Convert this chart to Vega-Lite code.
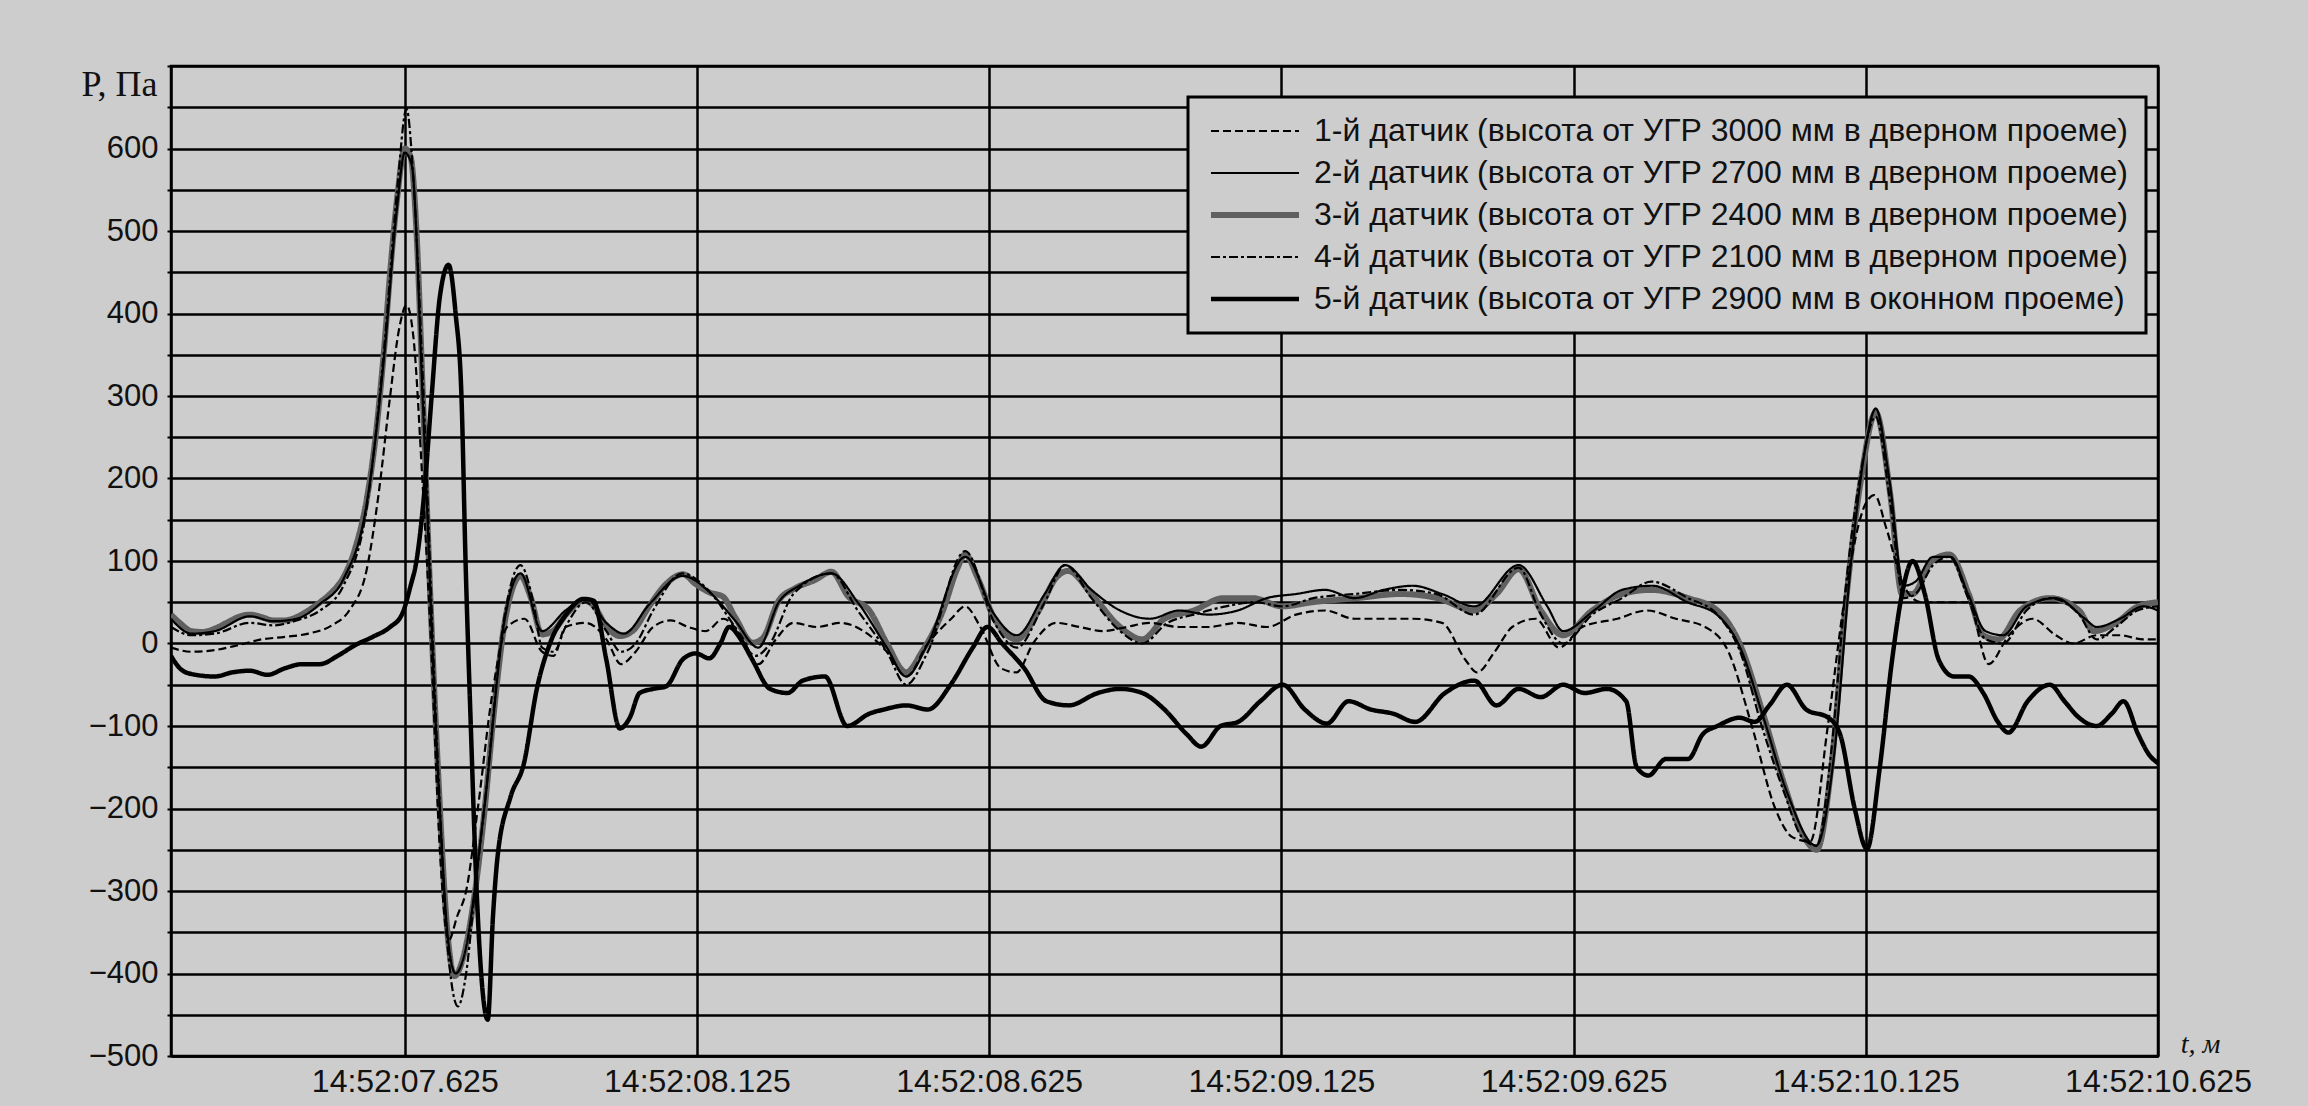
{
"$schema":"https://vega.github.io/schema/vega-lite/v6.json",
"width":1987,"height":990,
"autosize":{"type":"none"},
"padding":{"left":171,"top":66,"right":150,"bottom":50},
"background":"#cdcdcd",
"datasets":{"names":[
{"k":1,"name":"1-й датчик (высота от УГР 3000 мм в дверном проеме)"},
{"k":2,"name":"2-й датчик (высота от УГР 2700 мм в дверном проеме)"},
{"k":3,"name":"3-й датчик (высота от УГР 2400 мм в дверном проеме)"},
{"k":4,"name":"4-й датчик (высота от УГР 2100 мм в дверном проеме)"},
{"k":5,"name":"5-й датчик (высота от УГР 2900 мм в оконном проеме)"}]},
"data":{"values":[
{"k":3,"t":7.225,"p":35},{"k":3,"t":7.24,"p":25},{"k":3,"t":7.26,"p":15},{"k":3,"t":7.28,"p":14},{"k":3,"t":7.3,"p":18},{"k":3,"t":7.32,"p":25},{"k":3,"t":7.34,"p":32},{"k":3,"t":7.36,"p":35},{"k":3,"t":7.38,"p":32},{"k":3,"t":7.4,"p":28},{"k":3,"t":7.42,"p":28},{"k":3,"t":7.44,"p":32},{"k":3,"t":7.46,"p":40},{"k":3,"t":7.48,"p":50},{"k":3,"t":7.5,"p":62},{"k":3,"t":7.52,"p":80},{"k":3,"t":7.54,"p":115},{"k":3,"t":7.56,"p":175},{"k":3,"t":7.575,"p":250},{"k":3,"t":7.59,"p":360},{"k":3,"t":7.6,"p":450},{"k":3,"t":7.612,"p":540},{"k":3,"t":7.625,"p":600},{"k":3,"t":7.635,"p":590},{"k":3,"t":7.645,"p":500},{"k":3,"t":7.656,"p":300},{"k":3,"t":7.668,"p":70},{"k":3,"t":7.682,"p":-155},{"k":3,"t":7.699,"p":-358},{"k":3,"t":7.71,"p":-403},{"k":3,"t":7.724,"p":-383},{"k":3,"t":7.744,"p":-307},{"k":3,"t":7.761,"p":-206},{"k":3,"t":7.778,"p":-80},{"k":3,"t":7.795,"p":21},{"k":3,"t":7.812,"p":72},{"k":3,"t":7.823,"p":82},{"k":3,"t":7.84,"p":57},{"k":3,"t":7.86,"p":11},{"k":3,"t":7.88,"p":16},{"k":3,"t":7.902,"p":36},{"k":3,"t":7.931,"p":52},{"k":3,"t":7.948,"p":46},{"k":3,"t":7.97,"p":21},{"k":3,"t":7.993,"p":9},{"k":3,"t":8.016,"p":16},{"k":3,"t":8.044,"p":46},{"k":3,"t":8.072,"p":72},{"k":3,"t":8.101,"p":84},{"k":3,"t":8.123,"p":72},{"k":3,"t":8.146,"p":62},{"k":3,"t":8.169,"p":57},{"k":3,"t":8.191,"p":31},{"k":3,"t":8.22,"p":1},{"k":3,"t":8.237,"p":6},{"k":3,"t":8.265,"p":52},{"k":3,"t":8.293,"p":67},{"k":3,"t":8.327,"p":77},{"k":3,"t":8.355,"p":87},{"k":3,"t":8.384,"p":57},{"k":3,"t":8.42,"p":40},{"k":3,"t":8.45,"p":0},{"k":3,"t":8.483,"p":-35},{"k":3,"t":8.51,"p":-10},{"k":3,"t":8.546,"p":40},{"k":3,"t":8.57,"p":90},{"k":3,"t":8.584,"p":108},{"k":3,"t":8.605,"p":80},{"k":3,"t":8.634,"p":30},{"k":3,"t":8.672,"p":5},{"k":3,"t":8.71,"p":40},{"k":3,"t":8.74,"p":80},{"k":3,"t":8.76,"p":88},{"k":3,"t":8.8,"p":60},{"k":3,"t":8.849,"p":20},{"k":3,"t":8.887,"p":5},{"k":3,"t":8.925,"p":30},{"k":3,"t":8.975,"p":40},{"k":3,"t":9.026,"p":55},{"k":3,"t":9.076,"p":55},{"k":3,"t":9.127,"p":45},{"k":3,"t":9.177,"p":50},{"k":3,"t":9.253,"p":55},{"k":3,"t":9.329,"p":60},{"k":3,"t":9.392,"p":55},{"k":3,"t":9.455,"p":40},{"k":3,"t":9.493,"p":60},{"k":3,"t":9.531,"p":90},{"k":3,"t":9.569,"p":40},{"k":3,"t":9.607,"p":10},{"k":3,"t":9.657,"p":40},{"k":3,"t":9.708,"p":60},{"k":3,"t":9.758,"p":65},{"k":3,"t":9.821,"p":55},{"k":3,"t":9.871,"p":40},{"k":3,"t":9.909,"p":0},{"k":3,"t":9.947,"p":-80},{"k":3,"t":9.985,"p":-170},{"k":3,"t":10.016,"p":-230},{"k":3,"t":10.041,"p":-250},{"k":3,"t":10.066,"p":-150},{"k":3,"t":10.091,"p":50},{"k":3,"t":10.117,"p":200},{"k":3,"t":10.142,"p":280},{"k":3,"t":10.167,"p":180},{"k":3,"t":10.187,"p":60},{"k":3,"t":10.205,"p":60},{"k":3,"t":10.238,"p":100},{"k":3,"t":10.268,"p":108},{"k":3,"t":10.301,"p":60},{"k":3,"t":10.326,"p":10},{"k":3,"t":10.351,"p":5},{"k":3,"t":10.389,"p":40},{"k":3,"t":10.44,"p":55},{"k":3,"t":10.49,"p":40},{"k":3,"t":10.515,"p":15},{"k":3,"t":10.553,"p":25},{"k":3,"t":10.591,"p":45},{"k":3,"t":10.625,"p":50},
{"k":2,"t":7.225,"p":30},{"k":2,"t":7.26,"p":12},{"k":2,"t":7.3,"p":15},{"k":2,"t":7.36,"p":33},{"k":2,"t":7.4,"p":27},{"k":2,"t":7.44,"p":30},{"k":2,"t":7.48,"p":48},{"k":2,"t":7.52,"p":78},{"k":2,"t":7.56,"p":170},{"k":2,"t":7.59,"p":350},{"k":2,"t":7.612,"p":530},{"k":2,"t":7.625,"p":595},{"k":2,"t":7.637,"p":580},{"k":2,"t":7.656,"p":290},{"k":2,"t":7.682,"p":-160},{"k":2,"t":7.7,"p":-365},{"k":2,"t":7.712,"p":-400},{"k":2,"t":7.726,"p":-380},{"k":2,"t":7.761,"p":-200},{"k":2,"t":7.795,"p":25},{"k":2,"t":7.823,"p":85},{"k":2,"t":7.86,"p":15},{"k":2,"t":7.9,"p":40},{"k":2,"t":7.935,"p":55},{"k":2,"t":7.97,"p":25},{"k":2,"t":8.0,"p":12},{"k":2,"t":8.044,"p":48},{"k":2,"t":8.1,"p":82},{"k":2,"t":8.15,"p":60},{"k":2,"t":8.19,"p":28},{"k":2,"t":8.23,"p":-5},{"k":2,"t":8.265,"p":50},{"k":2,"t":8.3,"p":70},{"k":2,"t":8.355,"p":85},{"k":2,"t":8.4,"p":50},{"k":2,"t":8.45,"p":-5},{"k":2,"t":8.483,"p":-40},{"k":2,"t":8.52,"p":0},{"k":2,"t":8.584,"p":105},{"k":2,"t":8.634,"p":35},{"k":2,"t":8.672,"p":10},{"k":2,"t":8.72,"p":60},{"k":2,"t":8.755,"p":95},{"k":2,"t":8.8,"p":65},{"k":2,"t":8.849,"p":40},{"k":2,"t":8.9,"p":30},{"k":2,"t":8.95,"p":40},{"k":2,"t":9.0,"p":35},{"k":2,"t":9.05,"p":40},{"k":2,"t":9.1,"p":55},{"k":2,"t":9.15,"p":60},{"k":2,"t":9.2,"p":65},{"k":2,"t":9.25,"p":55},{"k":2,"t":9.3,"p":65},{"k":2,"t":9.35,"p":70},{"k":2,"t":9.4,"p":60},{"k":2,"t":9.455,"p":45},{"k":2,"t":9.531,"p":95},{"k":2,"t":9.58,"p":45},{"k":2,"t":9.607,"p":15},{"k":2,"t":9.66,"p":40},{"k":2,"t":9.708,"p":65},{"k":2,"t":9.76,"p":70},{"k":2,"t":9.82,"p":50},{"k":2,"t":9.87,"p":35},{"k":2,"t":9.91,"p":-5},{"k":2,"t":9.95,"p":-90},{"k":2,"t":9.99,"p":-180},{"k":2,"t":10.04,"p":-245},{"k":2,"t":10.07,"p":-140},{"k":2,"t":10.1,"p":100},{"k":2,"t":10.125,"p":240},{"k":2,"t":10.142,"p":285},{"k":2,"t":10.165,"p":200},{"k":2,"t":10.19,"p":70},{"k":2,"t":10.21,"p":75},{"k":2,"t":10.24,"p":105},{"k":2,"t":10.27,"p":105},{"k":2,"t":10.3,"p":60},{"k":2,"t":10.33,"p":15},{"k":2,"t":10.36,"p":10},{"k":2,"t":10.4,"p":45},{"k":2,"t":10.45,"p":55},{"k":2,"t":10.5,"p":30},{"k":2,"t":10.52,"p":20},{"k":2,"t":10.56,"p":30},{"k":2,"t":10.6,"p":45},{"k":2,"t":10.625,"p":40},
{"k":4,"t":7.225,"p":20},{"k":4,"t":7.26,"p":10},{"k":4,"t":7.3,"p":12},{"k":4,"t":7.36,"p":25},{"k":4,"t":7.4,"p":22},{"k":4,"t":7.44,"p":28},{"k":4,"t":7.48,"p":40},{"k":4,"t":7.52,"p":70},{"k":4,"t":7.56,"p":165},{"k":4,"t":7.59,"p":360},{"k":4,"t":7.612,"p":550},{"k":4,"t":7.628,"p":648},{"k":4,"t":7.64,"p":560},{"k":4,"t":7.656,"p":320},{"k":4,"t":7.682,"p":-150},{"k":4,"t":7.7,"p":-380},{"k":4,"t":7.716,"p":-440},{"k":4,"t":7.73,"p":-400},{"k":4,"t":7.745,"p":-300},{"k":4,"t":7.761,"p":-200},{"k":4,"t":7.795,"p":30},{"k":4,"t":7.823,"p":95},{"k":4,"t":7.845,"p":50},{"k":4,"t":7.86,"p":-5},{"k":4,"t":7.88,"p":-10},{"k":4,"t":7.9,"p":20},{"k":4,"t":7.935,"p":50},{"k":4,"t":7.97,"p":15},{"k":4,"t":7.995,"p":-10},{"k":4,"t":8.02,"p":0},{"k":4,"t":8.05,"p":40},{"k":4,"t":8.1,"p":85},{"k":4,"t":8.15,"p":60},{"k":4,"t":8.19,"p":20},{"k":4,"t":8.225,"p":-15},{"k":4,"t":8.25,"p":0},{"k":4,"t":8.29,"p":60},{"k":4,"t":8.355,"p":85},{"k":4,"t":8.4,"p":40},{"k":4,"t":8.45,"p":-10},{"k":4,"t":8.483,"p":-50},{"k":4,"t":8.52,"p":-10},{"k":4,"t":8.584,"p":112},{"k":4,"t":8.634,"p":25},{"k":4,"t":8.672,"p":-5},{"k":4,"t":8.72,"p":50},{"k":4,"t":8.755,"p":95},{"k":4,"t":8.8,"p":55},{"k":4,"t":8.849,"p":15},{"k":4,"t":8.887,"p":0},{"k":4,"t":8.93,"p":25},{"k":4,"t":8.975,"p":35},{"k":4,"t":9.03,"p":45},{"k":4,"t":9.08,"p":50},{"k":4,"t":9.127,"p":45},{"k":4,"t":9.18,"p":55},{"k":4,"t":9.25,"p":60},{"k":4,"t":9.33,"p":65},{"k":4,"t":9.39,"p":60},{"k":4,"t":9.455,"p":35},{"k":4,"t":9.531,"p":92},{"k":4,"t":9.569,"p":35},{"k":4,"t":9.607,"p":0},{"k":4,"t":9.657,"p":35},{"k":4,"t":9.708,"p":55},{"k":4,"t":9.758,"p":75},{"k":4,"t":9.821,"p":55},{"k":4,"t":9.871,"p":35},{"k":4,"t":9.91,"p":-10},{"k":4,"t":9.947,"p":-100},{"k":4,"t":9.985,"p":-180},{"k":4,"t":10.016,"p":-235},{"k":4,"t":10.041,"p":-245},{"k":4,"t":10.066,"p":-130},{"k":4,"t":10.091,"p":70},{"k":4,"t":10.117,"p":210},{"k":4,"t":10.142,"p":275},{"k":4,"t":10.167,"p":170},{"k":4,"t":10.19,"p":55},{"k":4,"t":10.21,"p":60},{"k":4,"t":10.24,"p":95},{"k":4,"t":10.268,"p":105},{"k":4,"t":10.3,"p":55},{"k":4,"t":10.33,"p":5},{"k":4,"t":10.36,"p":0},{"k":4,"t":10.4,"p":40},{"k":4,"t":10.44,"p":55},{"k":4,"t":10.49,"p":35},{"k":4,"t":10.52,"p":5},{"k":4,"t":10.553,"p":20},{"k":4,"t":10.59,"p":40},{"k":4,"t":10.625,"p":45},
{"k":1,"t":7.225,"p":-5},{"k":1,"t":7.26,"p":-10},{"k":1,"t":7.3,"p":-8},{"k":1,"t":7.34,"p":-2},{"k":1,"t":7.38,"p":5},{"k":1,"t":7.42,"p":8},{"k":1,"t":7.46,"p":12},{"k":1,"t":7.5,"p":22},{"k":1,"t":7.53,"p":40},{"k":1,"t":7.56,"p":90},{"k":1,"t":7.58,"p":180},{"k":1,"t":7.6,"p":300},{"k":1,"t":7.615,"p":380},{"k":1,"t":7.628,"p":410},{"k":1,"t":7.64,"p":370},{"k":1,"t":7.655,"p":200},{"k":1,"t":7.67,"p":0},{"k":1,"t":7.685,"p":-250},{"k":1,"t":7.7,"p":-360},{"k":1,"t":7.715,"p":-330},{"k":1,"t":7.73,"p":-300},{"k":1,"t":7.75,"p":-200},{"k":1,"t":7.775,"p":-60},{"k":1,"t":7.8,"p":20},{"k":1,"t":7.83,"p":30},{"k":1,"t":7.86,"p":-10},{"k":1,"t":7.88,"p":-15},{"k":1,"t":7.9,"p":20},{"k":1,"t":7.935,"p":25},{"k":1,"t":7.97,"p":5},{"k":1,"t":7.995,"p":-25},{"k":1,"t":8.02,"p":-10},{"k":1,"t":8.05,"p":20},{"k":1,"t":8.08,"p":28},{"k":1,"t":8.11,"p":20},{"k":1,"t":8.14,"p":15},{"k":1,"t":8.17,"p":30},{"k":1,"t":8.2,"p":10},{"k":1,"t":8.23,"p":-25},{"k":1,"t":8.26,"p":5},{"k":1,"t":8.29,"p":25},{"k":1,"t":8.33,"p":20},{"k":1,"t":8.37,"p":25},{"k":1,"t":8.41,"p":15},{"k":1,"t":8.45,"p":-10},{"k":1,"t":8.483,"p":-40},{"k":1,"t":8.52,"p":0},{"k":1,"t":8.56,"p":30},{"k":1,"t":8.584,"p":45},{"k":1,"t":8.61,"p":20},{"k":1,"t":8.645,"p":-30},{"k":1,"t":8.672,"p":-35},{"k":1,"t":8.7,"p":0},{"k":1,"t":8.74,"p":25},{"k":1,"t":8.78,"p":20},{"k":1,"t":8.82,"p":15},{"k":1,"t":8.86,"p":20},{"k":1,"t":8.9,"p":25},{"k":1,"t":8.95,"p":20},{"k":1,"t":9.0,"p":20},{"k":1,"t":9.05,"p":25},{"k":1,"t":9.1,"p":20},{"k":1,"t":9.15,"p":35},{"k":1,"t":9.2,"p":40},{"k":1,"t":9.25,"p":30},{"k":1,"t":9.3,"p":30},{"k":1,"t":9.35,"p":30},{"k":1,"t":9.4,"p":25},{"k":1,"t":9.44,"p":-20},{"k":1,"t":9.46,"p":-35},{"k":1,"t":9.49,"p":-10},{"k":1,"t":9.52,"p":20},{"k":1,"t":9.56,"p":30},{"k":1,"t":9.6,"p":-5},{"k":1,"t":9.64,"p":20},{"k":1,"t":9.7,"p":30},{"k":1,"t":9.75,"p":40},{"k":1,"t":9.8,"p":30},{"k":1,"t":9.85,"p":20},{"k":1,"t":9.89,"p":-10},{"k":1,"t":9.93,"p":-100},{"k":1,"t":9.97,"p":-200},{"k":1,"t":10.0,"p":-235},{"k":1,"t":10.03,"p":-240},{"k":1,"t":10.06,"p":-100},{"k":1,"t":10.09,"p":60},{"k":1,"t":10.125,"p":170},{"k":1,"t":10.14,"p":180},{"k":1,"t":10.16,"p":140},{"k":1,"t":10.19,"p":70},{"k":1,"t":10.22,"p":50},{"k":1,"t":10.26,"p":50},{"k":1,"t":10.3,"p":50},{"k":1,"t":10.335,"p":-25},{"k":1,"t":10.37,"p":10},{"k":1,"t":10.41,"p":30},{"k":1,"t":10.45,"p":10},{"k":1,"t":10.48,"p":0},{"k":1,"t":10.52,"p":10},{"k":1,"t":10.56,"p":10},{"k":1,"t":10.6,"p":5},{"k":1,"t":10.625,"p":5},
{"k":5,"t":7.225,"p":-15},{"k":5,"t":7.24,"p":-30},{"k":5,"t":7.26,"p":-37},{"k":5,"t":7.3,"p":-40},{"k":5,"t":7.33,"p":-35},{"k":5,"t":7.36,"p":-33},{"k":5,"t":7.39,"p":-38},{"k":5,"t":7.42,"p":-30},{"k":5,"t":7.45,"p":-25},{"k":5,"t":7.48,"p":-25},{"k":5,"t":7.51,"p":-15},{"k":5,"t":7.54,"p":-2},{"k":5,"t":7.57,"p":8},{"k":5,"t":7.6,"p":20},{"k":5,"t":7.62,"p":35},{"k":5,"t":7.635,"p":70},{"k":5,"t":7.645,"p":100},{"k":5,"t":7.658,"p":180},{"k":5,"t":7.671,"p":300},{"k":5,"t":7.685,"p":420},{"k":5,"t":7.7,"p":459},{"k":5,"t":7.712,"p":400},{"k":5,"t":7.722,"p":300},{"k":5,"t":7.729,"p":100},{"k":5,"t":7.738,"p":-100},{"k":5,"t":7.748,"p":-300},{"k":5,"t":7.758,"p":-420},{"k":5,"t":7.767,"p":-456},{"k":5,"t":7.776,"p":-330},{"k":5,"t":7.784,"p":-257},{"k":5,"t":7.806,"p":-186},{"k":5,"t":7.829,"p":-145},{"k":5,"t":7.851,"p":-55},{"k":5,"t":7.874,"p":1},{"k":5,"t":7.902,"p":36},{"k":5,"t":7.931,"p":54},{"k":5,"t":7.948,"p":52},{"k":5,"t":7.97,"p":-20},{"k":5,"t":7.993,"p":-103},{"k":5,"t":8.01,"p":-90},{"k":5,"t":8.027,"p":-60},{"k":5,"t":8.05,"p":-55},{"k":5,"t":8.072,"p":-52},{"k":5,"t":8.101,"p":-19},{"k":5,"t":8.123,"p":-12},{"k":5,"t":8.146,"p":-18},{"k":5,"t":8.165,"p":0},{"k":5,"t":8.18,"p":20},{"k":5,"t":8.2,"p":5},{"k":5,"t":8.22,"p":-20},{"k":5,"t":8.25,"p":-55},{"k":5,"t":8.28,"p":-60},{"k":5,"t":8.306,"p":-45},{"k":5,"t":8.344,"p":-40},{"k":5,"t":8.382,"p":-100},{"k":5,"t":8.42,"p":-85},{"k":5,"t":8.445,"p":-80},{"k":5,"t":8.483,"p":-75},{"k":5,"t":8.52,"p":-80},{"k":5,"t":8.559,"p":-50},{"k":5,"t":8.597,"p":-5},{"k":5,"t":8.622,"p":20},{"k":5,"t":8.647,"p":0},{"k":5,"t":8.685,"p":-30},{"k":5,"t":8.723,"p":-70},{"k":5,"t":8.761,"p":-75},{"k":5,"t":8.811,"p":-60},{"k":5,"t":8.849,"p":-55},{"k":5,"t":8.887,"p":-60},{"k":5,"t":8.925,"p":-80},{"k":5,"t":8.963,"p":-110},{"k":5,"t":8.988,"p":-125},{"k":5,"t":9.021,"p":-100},{"k":5,"t":9.051,"p":-95},{"k":5,"t":9.089,"p":-70},{"k":5,"t":9.127,"p":-50},{"k":5,"t":9.165,"p":-80},{"k":5,"t":9.203,"p":-97},{"k":5,"t":9.24,"p":-70},{"k":5,"t":9.278,"p":-80},{"k":5,"t":9.316,"p":-85},{"k":5,"t":9.354,"p":-95},{"k":5,"t":9.405,"p":-60},{"k":5,"t":9.455,"p":-45},{"k":5,"t":9.493,"p":-75},{"k":5,"t":9.531,"p":-55},{"k":5,"t":9.569,"p":-65},{"k":5,"t":9.607,"p":-50},{"k":5,"t":9.644,"p":-60},{"k":5,"t":9.682,"p":-55},{"k":5,"t":9.715,"p":-70},{"k":5,"t":9.733,"p":-150},{"k":5,"t":9.753,"p":-160},{"k":5,"t":9.783,"p":-140},{"k":5,"t":9.821,"p":-140},{"k":5,"t":9.846,"p":-110},{"k":5,"t":9.871,"p":-100},{"k":5,"t":9.909,"p":-90},{"k":5,"t":9.935,"p":-95},{"k":5,"t":9.96,"p":-75},{"k":5,"t":9.99,"p":-50},{"k":5,"t":10.023,"p":-80},{"k":5,"t":10.061,"p":-90},{"k":5,"t":10.081,"p":-110},{"k":5,"t":10.106,"p":-200},{"k":5,"t":10.127,"p":-249},{"k":5,"t":10.149,"p":-150},{"k":5,"t":10.17,"p":-20},{"k":5,"t":10.187,"p":60},{"k":5,"t":10.205,"p":100},{"k":5,"t":10.226,"p":60},{"k":5,"t":10.25,"p":-20},{"k":5,"t":10.276,"p":-40},{"k":5,"t":10.301,"p":-40},{"k":5,"t":10.326,"p":-60},{"k":5,"t":10.351,"p":-95},{"k":5,"t":10.369,"p":-108},{"k":5,"t":10.402,"p":-70},{"k":5,"t":10.44,"p":-50},{"k":5,"t":10.465,"p":-70},{"k":5,"t":10.49,"p":-90},{"k":5,"t":10.52,"p":-100},{"k":5,"t":10.546,"p":-85},{"k":5,"t":10.566,"p":-70},{"k":5,"t":10.591,"p":-110},{"k":5,"t":10.61,"p":-135},{"k":5,"t":10.625,"p":-145}
]},
"transform":[{"lookup":"k","from":{"data":{"name":"names"},"key":"k","fields":["name"]}}],
"mark":{"type":"line","interpolate":"monotone","clip":true},
"encoding":{
"x":{"field":"t","type":"quantitative","scale":{"domain":[7.225,10.625],"nice":false,"zero":false},
 "axis":{"values":[7.625,8.125,8.625,9.125,9.625,10.125,10.625],"labelExpr":"'14:52:' + (datum.value < 10 ? '0' : '') + format(datum.value, '.3f')",
 "grid":true,"gridColor":"#000000","gridWidth":2.5,"gridOpacity":1,"ticks":false,"labelPadding":10,"labelFont":"Liberation Sans","labelFontSize":32,"labelColor":"#111111","labelLimit":0,
 "domainColor":"#000000","domainWidth":2.5,"labelFlush":false,"labelOverlap":false,
 "title":"t, м","titleFont":"Liberation Serif","titleFontSize":28,"titleFontWeight":"normal","titleFontStyle":"italic","titleColor":"#111111","titleAlign":"center","titleBaseline":"alphabetic","titleX":2029,"titleY":-4}},
"y":{"field":"p","type":"quantitative","scale":{"domain":[-500,700],"nice":false,"zero":false},
 "axis":{"values":[-500,-450,-400,-350,-300,-250,-200,-150,-100,-50,0,50,100,150,200,250,300,350,400,450,500,550,600,650,700],
 "labelExpr":"(datum.value % 100 == 0 && datum.value < 700) ? datum.label : ''",
 "grid":true,"gridColor":"#000000","gridWidth":2.5,"gridOpacity":1,"ticks":true,"tickSize":4,"tickColor":"#000000","tickWidth":2,"labelPadding":9,"labelFont":"Liberation Sans","labelFontSize":31,"labelColor":"#111111","labelLimit":0,
 "domainColor":"#000000","domainWidth":2.5,"labelFlush":false,"labelOverlap":false,
 "title":"P, Па","titleFont":"Liberation Serif","titleFontSize":36,"titleFontWeight":"normal","titleColor":"#111111","titleAngle":0,"titleAlign":"right","titleBaseline":"alphabetic","titleX":-14,"titleY":29}},
"color":{"field":"name","type":"nominal","scale":{"domain":["1-й датчик (высота от УГР 3000 мм в дверном проеме)","2-й датчик (высота от УГР 2700 мм в дверном проеме)","3-й датчик (высота от УГР 2400 мм в дверном проеме)","4-й датчик (высота от УГР 2100 мм в дверном проеме)","5-й датчик (высота от УГР 2900 мм в оконном проеме)"],"range":["#000000","#000000","#606060","#000000","#000000"]},
 "legend":{"title":null,"orient":"none","legendX":1017,"legendY":31}},
"strokeDash":{"field":"name","type":"nominal","scale":{"domain":["1-й датчик (высота от УГР 3000 мм в дверном проеме)","2-й датчик (высота от УГР 2700 мм в дверном проеме)","3-й датчик (высота от УГР 2400 мм в дверном проеме)","4-й датчик (высота от УГР 2100 мм в дверном проеме)","5-й датчик (высота от УГР 2900 мм в оконном проеме)"],"range":[[8,4],[1,0],[1,0],[9,3,3,3],[1,0]]},
 "legend":{"title":null,"orient":"none","legendX":1017,"legendY":31}},
"strokeWidth":{"field":"name","type":"nominal","scale":{"type":"ordinal","domain":["1-й датчик (высота от УГР 3000 мм в дверном проеме)","2-й датчик (высота от УГР 2700 мм в дверном проеме)","3-й датчик (высота от УГР 2400 мм в дверном проеме)","4-й датчик (высота от УГР 2100 мм в дверном проеме)","5-й датчик (высота от УГР 2900 мм в оконном проеме)"],"range":[2.2,2.2,6,2.2,4.5]},
 "legend":{"title":null,"orient":"none","legendX":1017,"legendY":31}}
},
"config":{
"view":{"stroke":"#000000","strokeWidth":2.5},
"legend":{"fillColor":"#cdcdcd","strokeColor":"#000000","strokeWidth":3,"padding":18,"labelFont":"Liberation Sans","labelFontSize":32,"labelColor":"#111111","labelLimit":0,"symbolType":"M-1,0H7","symbolSize":484,"labelOffset":76,"rowPadding":10,"symbolStrokeColor":"#000000"}
}
}
